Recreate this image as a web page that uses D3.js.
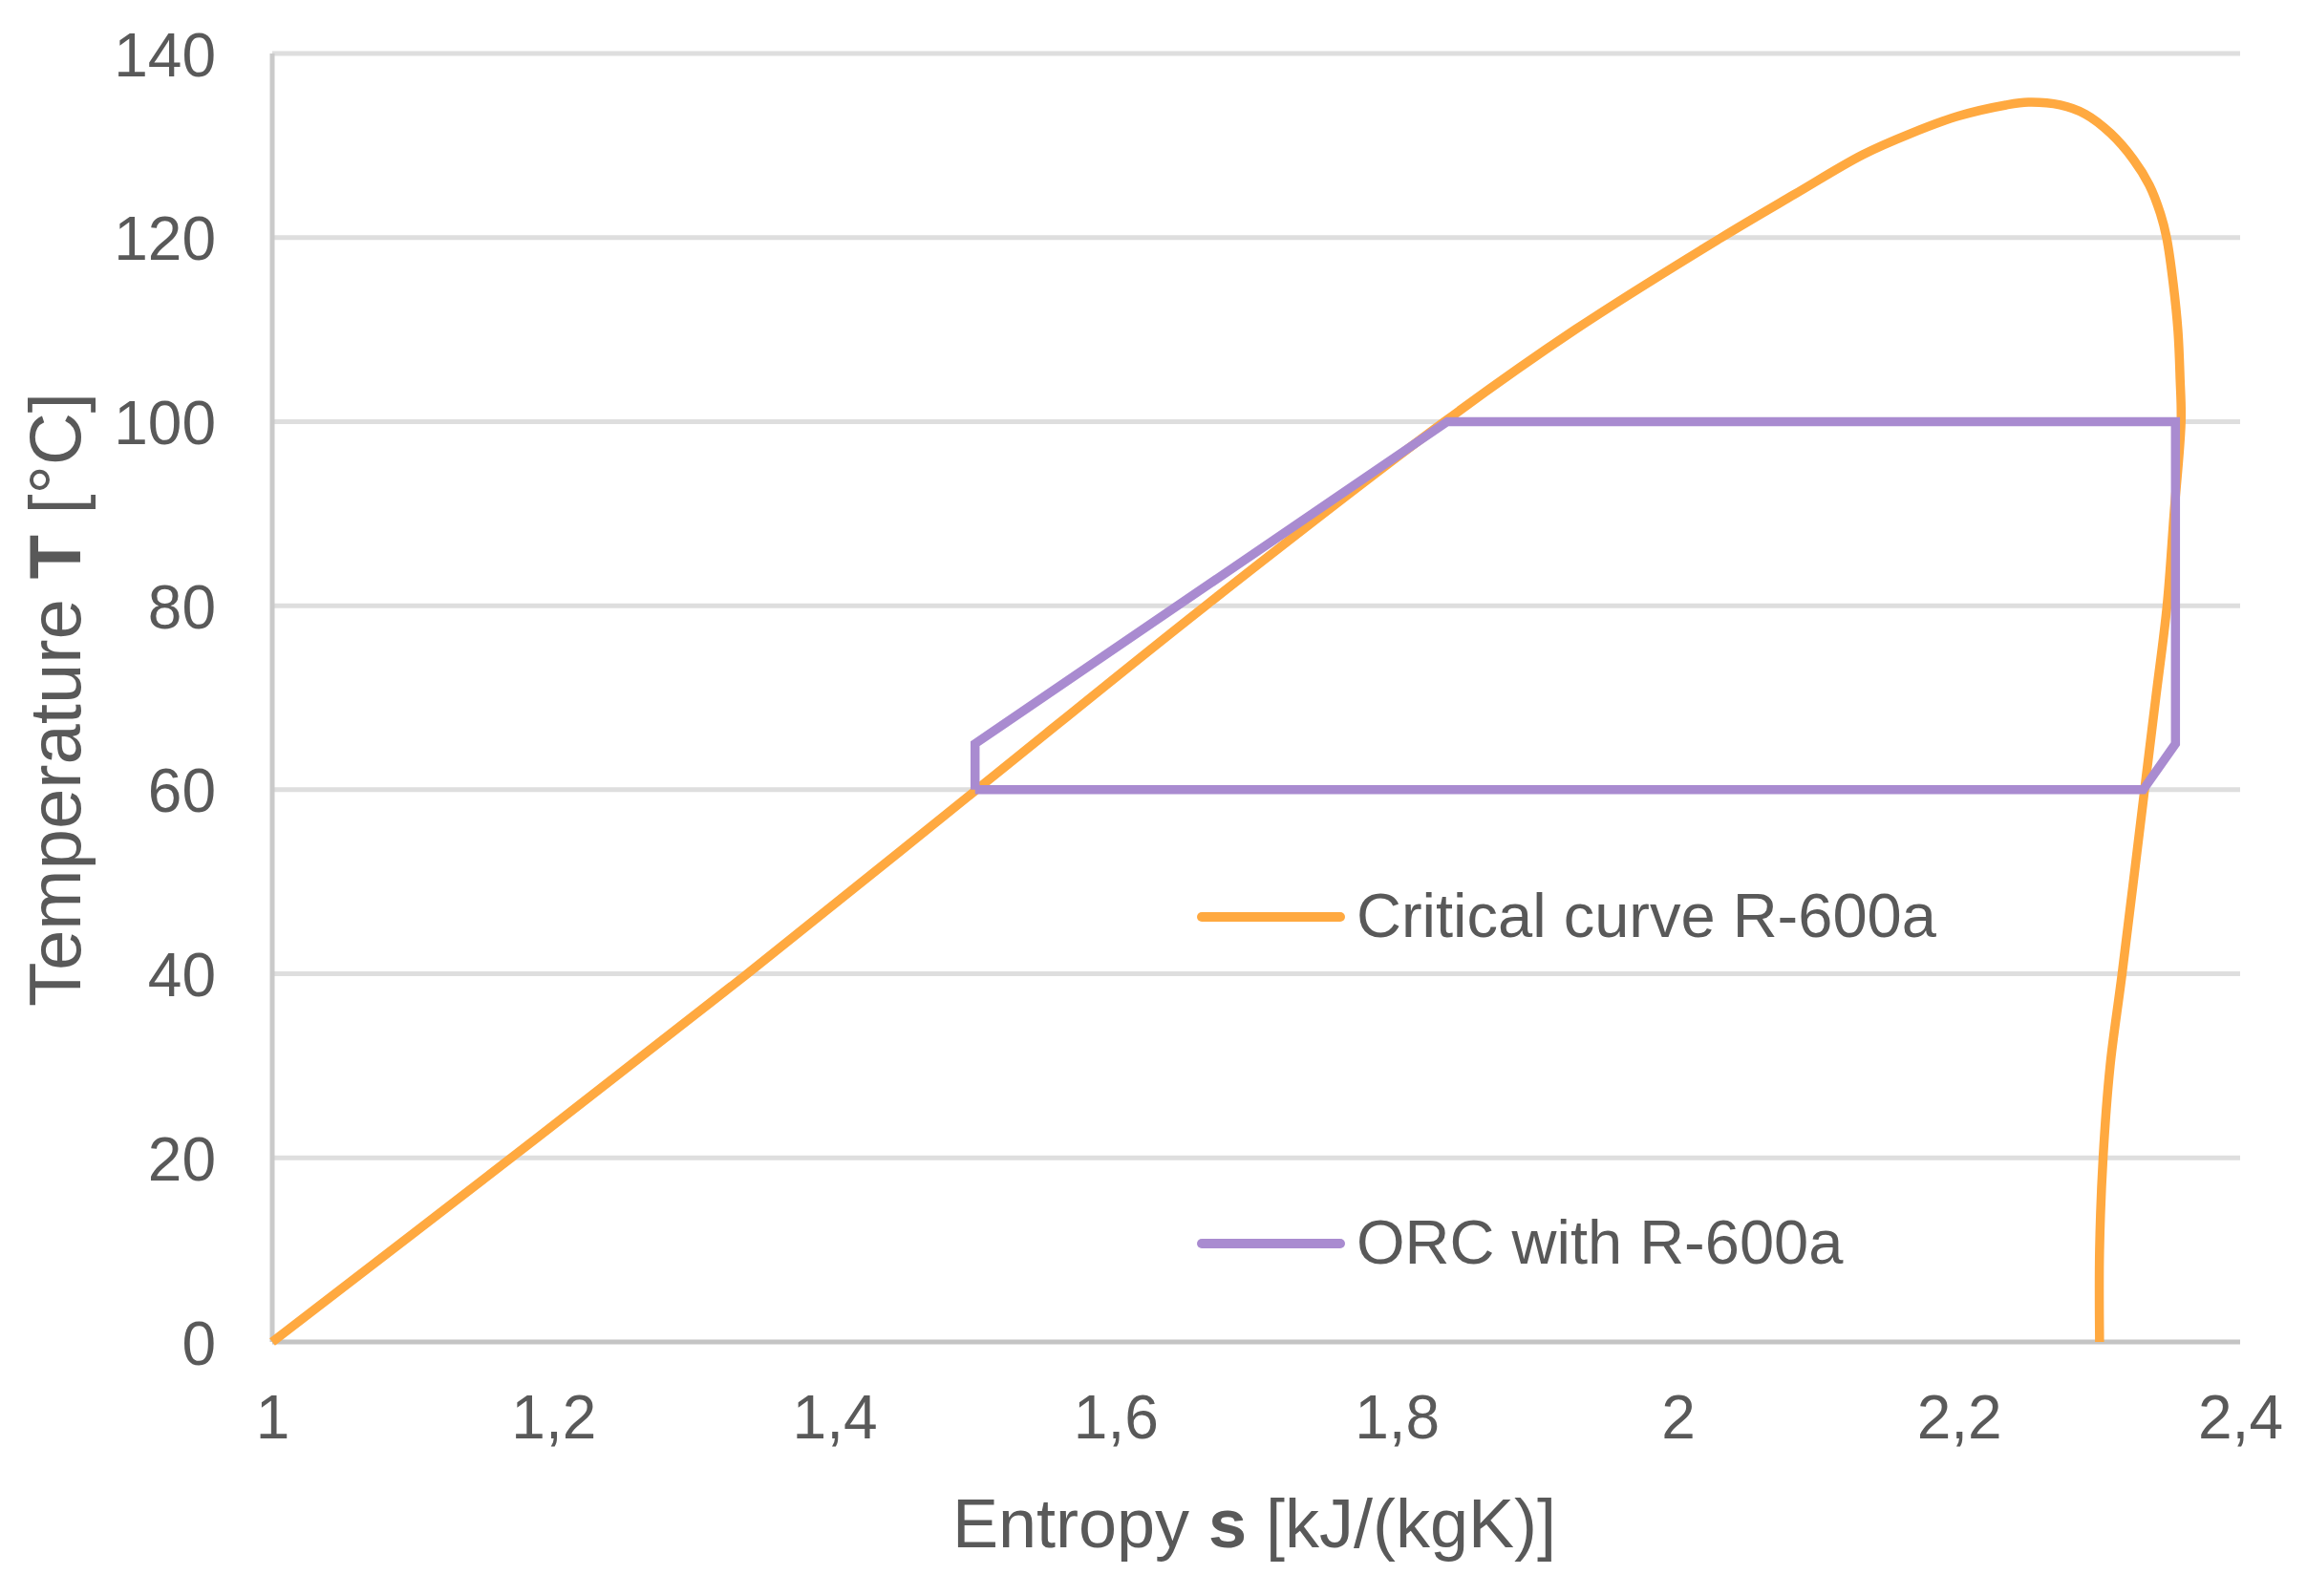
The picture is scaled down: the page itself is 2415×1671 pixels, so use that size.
<!DOCTYPE html>
<html>
<head>
<meta charset="utf-8">
<script src="https://cdn.jsdelivr.net/npm/d3@7"></script>
<style>
  body { margin: 0; background: #fff; }
  text { font-family: "Liberation Sans", Arial, sans-serif; fill: #595959; }
</style>
</head>
<body>
<div id="chart"></div>
<script>
// saturation (critical) curve of R-600a
var critS = [1.000, 1.170, 1.338, 1.501, 1.664, 1.834, 1.927, 2.031, 2.083, 2.1315, 2.1655, 2.1995,
             2.2334, 2.2493, 2.272, 2.290, 2.308, 2.324, 2.3354, 2.3433, 2.3478, 2.3524,
             2.3558, 2.3573, 2.358, 2.353, 2.348, 2.340, 2.332, 2.316, 2.3075, 2.3025,
             2.300, 2.300];
var critT = [0, 20, 40, 60, 80, 100, 110, 120, 124.7, 129.0, 131.3, 133.2,
             134.4, 134.7, 134.4, 133.4, 131.3, 128.5, 125.7, 122.6, 119.9, 115.0,
             109.8, 104.6, 100, 90, 80, 70, 60, 40, 30, 20,
             10, 0];

// ORC cycle
var orcS = [1.500, 1.500, 1.836, 2.354, 2.354, 2.331, 1.500];
var orcT = [60, 65, 100, 100, 65, 60, 60];

var xTicks = [1, 1.2, 1.4, 1.6, 1.8, 2, 2.2, 2.4];
var yTicks = [0, 20, 40, 60, 80, 100, 120, 140];

var seriesNames = ["Critical curve R-600a", "ORC with R-600a"];
var seriesColors = ["#FFA940", "#A98BD0"];

var W = 2415, H = 1671;
var margin = { top: 56, right: 70, bottom: 266, left: 285 };
var width = W - margin.left - margin.right,
    height = H - margin.top - margin.bottom;

var svg = d3.select("#chart")
    .append("svg")
    .attr("width", W)
    .attr("height", H)
    .append("g")
    .attr("transform", "translate(" + margin.left + "," + margin.top + ")");

var x = d3.scaleLinear().domain([1, 2.4]).range([0, width]);
var y = d3.scaleLinear().domain([0, 140]).range([height, 0]);

var comma = function (d) { return String(d).replace(".", ","); };

// horizontal gridlines
svg.append("g")
    .selectAll("line")
    .data(yTicks.filter(function (d) { return d > 0; }))
    .enter().append("line")
    .attr("x1", 0).attr("x2", width)
    .attr("y1", function (d) { return y(d); })
    .attr("y2", function (d) { return y(d); })
    .attr("stroke", "#dedede")
    .attr("stroke-width", 5);

// axis lines
svg.append("line")
    .attr("x1", 0).attr("x2", 0).attr("y1", 0).attr("y2", height)
    .attr("stroke", "#cacaca").attr("stroke-width", 5);
svg.append("line")
    .attr("x1", 0).attr("x2", width).attr("y1", height).attr("y2", height)
    .attr("stroke", "#c4c4c4").attr("stroke-width", 5);

// X axis
var gx = svg.append("g")
    .attr("transform", "translate(0," + height + ")")
    .call(d3.axisBottom(x).tickValues(xTicks).tickFormat(comma).tickSize(0).tickPadding(0));
gx.select(".domain").remove();
gx.selectAll("text")
    .attr("y", 101).attr("dy", 0)
    .style("font-size", "64px")
    .attr("fill", "#595959");

// Y axis
var gy = svg.append("g")
    .call(d3.axisLeft(y).tickValues(yTicks).tickSize(0).tickPadding(0));
gy.select(".domain").remove();
gy.selectAll("text")
    .attr("x", -59).attr("dy", "0.36em")
    .style("font-size", "64px")
    .attr("fill", "#595959");

// axis titles
var xt = svg.append("text")
    .attr("x", width / 2 - 2)
    .attr("y", 1620 - margin.top)
    .attr("text-anchor", "middle")
    .style("font-size", "72px");
xt.append("tspan").text("Entropy ");
xt.append("tspan").style("font-weight", "bold").text("s");
xt.append("tspan").text(" [kJ/(kgK)]");

var yt = svg.append("text")
    .attr("transform", "translate(" + (84 - margin.left) + "," + (height / 2 + 2) + ") rotate(-90)")
    .attr("text-anchor", "middle")
    .style("font-size", "76px");
yt.append("tspan").text("Temperature ");
yt.append("tspan").style("font-weight", "bold").text("T");
yt.append("tspan").text(" [°C]");

// lines
var line = d3.line()
    .x(function (d) { return x(d[0]); })
    .y(function (d) { return y(d[1]); });

svg.append("path")
    .datum(d3.zip(critS, critT))
    .attr("fill", "none")
    .attr("stroke", seriesColors[0])
    .attr("stroke-width", 9.5)
    .attr("stroke-linejoin", "round")
    .attr("d", line.curve(d3.curveCatmullRom.alpha(0.5)));

svg.append("path")
    .datum(d3.zip(orcS, orcT))
    .attr("fill", "none")
    .attr("stroke", seriesColors[1])
    .attr("stroke-width", 9.5)
    .attr("stroke-linejoin", "miter")
    .attr("d", line.curve(d3.curveLinear));

// legend
var legendY = [960, 1302];
var lg = svg.append("g").attr("transform", "translate(" + (-margin.left) + "," + (-margin.top) + ")");
seriesNames.forEach(function (name, i) {
    lg.append("line")
        .attr("x1", 1258).attr("x2", 1403)
        .attr("y1", legendY[i]).attr("y2", legendY[i])
        .attr("stroke", seriesColors[i])
        .attr("stroke-width", 10)
        .attr("stroke-linecap", "round");
    lg.append("text")
        .attr("x", 1420)
        .attr("y", legendY[i] + 21)
        .style("font-size", "65px")
        .text(name);
});
</script>
</body>
</html>
